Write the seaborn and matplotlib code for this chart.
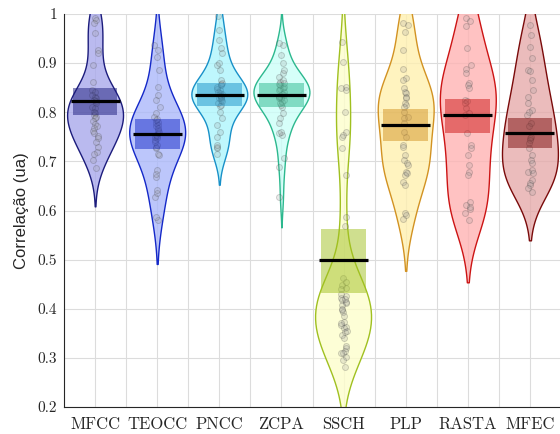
import numpy as np
import pandas as pd
import matplotlib
matplotlib.use("Agg")
import matplotlib.pyplot as plt
import seaborn as sns
from matplotlib.colors import to_rgb

categories = ["MFCC", "TEOCC", "PNCC", "ZCPA", "SSCH", "PLP", "RASTA", "MFEC"]

mfcc = [0.991, 0.988, 0.981, 0.961, 0.927, 0.920, 0.896, 0.862, 0.845, 0.842,
        0.835, 0.832, 0.828, 0.825, 0.822, 0.818, 0.811, 0.808, 0.80, 0.798,
        0.795, 0.79, 0.788, 0.782, 0.777, 0.771, 0.767, 0.762, 0.757, 0.752,
        0.747, 0.740, 0.730, 0.720, 0.716, 0.703, 0.686]
teocc = [0.581, 0.587, 0.628, 0.635, 0.642, 0.669, 0.675, 0.682, 0.713, 0.716,
         0.728, 0.730, 0.733, 0.740, 0.744, 0.747, 0.75, 0.752, 0.754, 0.757,
         0.760, 0.764, 0.767, 0.771, 0.774, 0.778, 0.781, 0.784, 0.787, 0.791,
         0.798, 0.811, 0.825, 0.835, 0.852, 0.886, 0.913, 0.927, 0.937]
pncc = [0.716, 0.727, 0.730, 0.733, 0.750, 0.760, 0.774, 0.788, 0.801, 0.813,
        0.815, 0.818, 0.822, 0.825, 0.828, 0.830, 0.832, 0.834, 0.836, 0.838,
        0.840, 0.842, 0.845, 0.848, 0.852, 0.855, 0.857, 0.859, 0.866, 0.886,
        0.896, 0.90, 0.92, 0.93, 0.947, 0.967, 0.995]
zcpa = [0.628, 0.689, 0.706, 0.754, 0.757, 0.760, 0.778, 0.788, 0.798, 0.811,
        0.815, 0.818, 0.821, 0.825, 0.828, 0.830, 0.832, 0.833, 0.835, 0.838,
        0.842, 0.845, 0.848, 0.850, 0.852, 0.855, 0.858, 0.860, 0.862, 0.866,
        0.872, 0.879, 0.886, 0.900, 0.916, 0.937, 0.940]
ssch = [0.942, 0.902, 0.852, 0.849, 0.845, 0.801, 0.760, 0.754, 0.750, 0.727,
        0.672, 0.587, 0.568, 0.462, 0.448, 0.442, 0.425, 0.421, 0.418, 0.414,
        0.411, 0.408, 0.397, 0.394, 0.374, 0.367, 0.363, 0.360, 0.353, 0.347,
        0.320, 0.313, 0.310, 0.302, 0.282, 0.455, 0.440, 0.430, 0.420, 0.400,
        0.385, 0.370, 0.355, 0.340, 0.325, 0.310, 0.295]
plp = [0.981, 0.978, 0.964, 0.927, 0.889, 0.869, 0.866, 0.849, 0.842, 0.839,
       0.832, 0.828, 0.818, 0.815, 0.811, 0.801, 0.791, 0.788, 0.778, 0.760,
       0.750, 0.733, 0.730, 0.713, 0.703, 0.696, 0.693, 0.679, 0.676, 0.672,
       0.659, 0.652, 0.594, 0.591, 0.582]
rasta = [0.991, 0.986, 0.976, 0.930, 0.896, 0.889, 0.879, 0.859, 0.855, 0.849,
         0.825, 0.822, 0.818, 0.808, 0.798, 0.794, 0.757, 0.733, 0.727, 0.713,
         0.693, 0.679, 0.672, 0.618, 0.611, 0.604, 0.594, 0.607, 0.581]
mfec = [0.978, 0.957, 0.933, 0.910, 0.886, 0.883, 0.866, 0.845, 0.832, 0.818,
        0.805, 0.801, 0.794, 0.778, 0.771, 0.750, 0.747, 0.744, 0.737, 0.727,
        0.713, 0.703, 0.696, 0.682, 0.679, 0.676, 0.662, 0.655, 0.652, 0.645,
        0.638]

series = [mfcc, teocc, pncc, zcpa, ssch, plp, rasta, mfec]

medians = [0.823, 0.755, 0.836, 0.835, 0.499, 0.775, 0.794, 0.758]
q1 = [0.795, 0.725, 0.813, 0.811, 0.433, 0.742, 0.758, 0.728]
q3 = [0.849, 0.786, 0.859, 0.860, 0.562, 0.807, 0.827, 0.788]

face_colors = ["#babaf0", "#bcc6fb", "#bef8fd", "#d6fff9",
               "#fdfed6", "#fff3c0", "#ffc2c2", "#ebbcbc"]
edge_colors = ["#1c1c7c", "#1428c8", "#1890c8", "#2cb88e",
               "#a0c020", "#d29222", "#cc1414", "#7a0a0a"]
bw_adjust = [1.0, 1.25, 1.0, 1.0, 0.7, 1.0, 1.0, 1.0]
cut = [2.0, 1.8, 2.0, 2.0, 2.0, 2.0, 2.0, 2.0]

sns.set_style("white")
plt.rcParams["font.family"] = ["DejaVu Sans"]

fig = plt.figure(figsize=(5.6, 4.34), dpi=100)
ax = fig.add_axes([64 / 560, 27 / 434, 497 / 560, 393 / 434])

face_alpha = 0.8
for cat, vals, fc, ec, bwa, ct in zip(categories, series, face_colors,
                                      edge_colors, bw_adjust, cut):
    v = np.asarray(vals, dtype=float)
    n = len(v)
    before = len(ax.collections)
    sns.violinplot(x=[cat] * n, y=v, order=categories, ax=ax, inner=None,
                   cut=ct, bw_method="scott", bw_adjust=bwa, width=0.9,
                   density_norm="width", color=fc, linecolor=ec,
                   linewidth=1.0, saturation=1)
    t = np.array(to_rgb(fc))
    base = np.clip(1 - (1 - t) / face_alpha, 0, 1)
    for coll in ax.collections[before:]:
        coll.set_facecolor((*base, face_alpha))
        coll.set_edgecolor(ec)
        coll.set_linewidth(1.0)
        coll.set_zorder(2)

df = pd.DataFrame({
    "method": np.concatenate([[c] * len(s) for c, s in zip(categories, series)]),
    "corr": np.concatenate(series),
})
np.random.seed(3)
sns.stripplot(data=df, x="method", y="corr", order=categories, jitter=0.05,
              size=4.3, color="#a0a0a0", edgecolor="#383838", linewidth=0.7,
              alpha=0.22, ax=ax, zorder=3)

xs = np.arange(len(categories))
ax.bar(xs, np.subtract(q3, q1), bottom=q1, width=0.72, color=edge_colors,
       alpha=0.5, linewidth=0, zorder=4)
ax.hlines(medians, xs - 0.395, xs + 0.395, colors="black", linewidth=2.3,
          zorder=5)

ax.set_xlim(-0.5, 7.5)
ax.set_ylim(0.2, 1.0)
yt = np.round(np.arange(0.2, 1.001, 0.1), 1)
ax.set_yticks(yt)
ax.set_yticklabels([f"{v:g}" for v in yt], fontfamily="cmr10", fontsize=11,
                   color="#262626")
ax.set_xticks(xs)
ax.set_xticklabels(categories, fontfamily="cmr10", fontsize=12,
                   color="#262626")
ax.set_xticks(np.arange(-0.5, 8, 1), minor=True)
ax.grid(True, which="both", color="#dcdcdc", linewidth=0.8)
ax.set_axisbelow(True)
ax.tick_params(axis="both", which="both", direction="in", length=4,
               width=0.8, color="#262626")
ax.tick_params(axis="y", pad=5)
ax.tick_params(axis="x", pad=7)
for side in ["top", "right"]:
    ax.spines[side].set_visible(False)
for side in ["left", "bottom"]:
    ax.spines[side].set_color("#262626")
    ax.spines[side].set_linewidth(0.8)

ax.set_xlabel("")
ax.set_ylabel("Correlação (ua)", fontsize=12, fontfamily="Liberation Sans",
              color="#262626")
ax.yaxis.set_label_coords(-0.07, 0.5)

fig.savefig("out.png", dpi=100)
